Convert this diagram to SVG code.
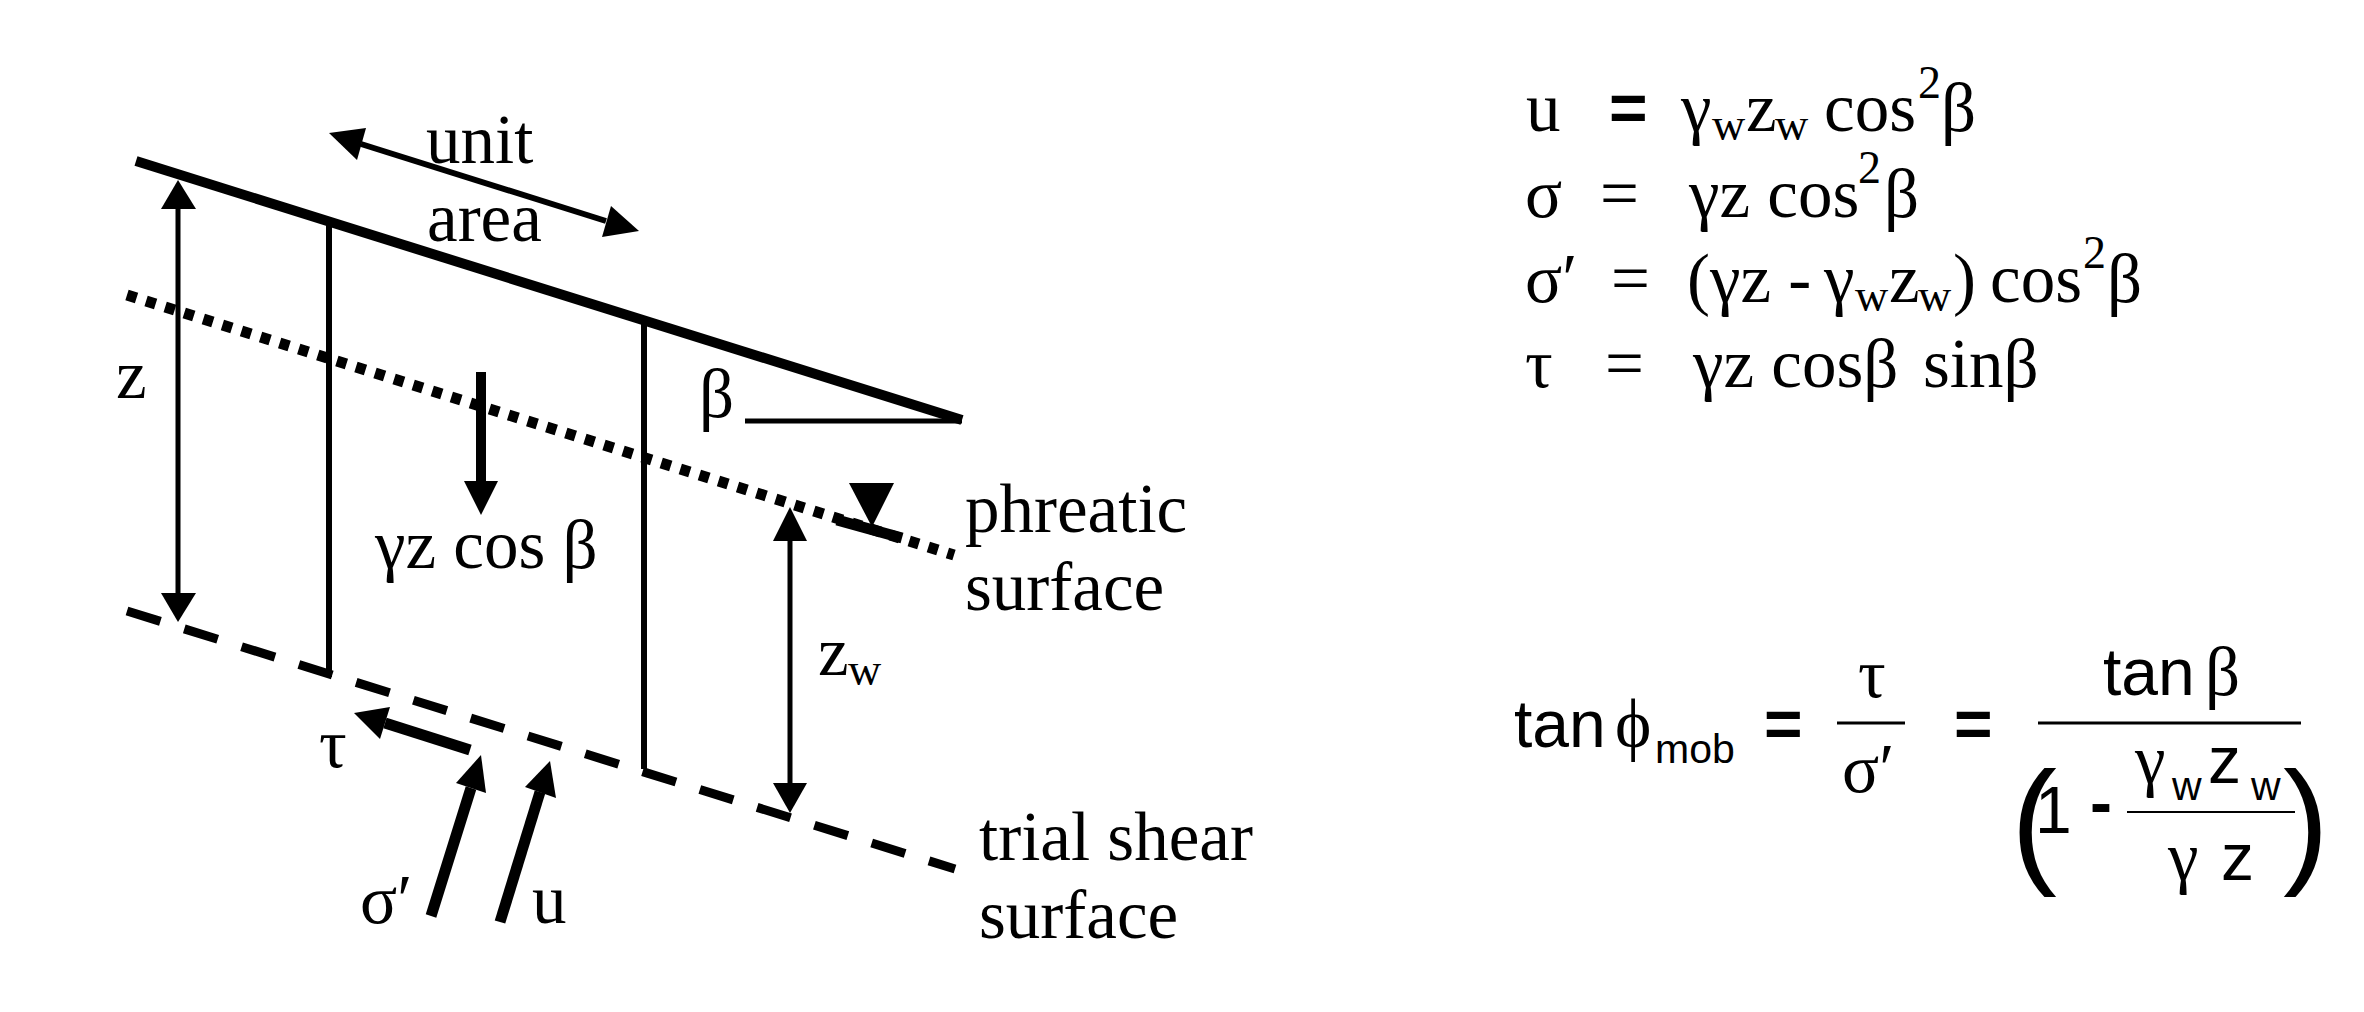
<svg xmlns="http://www.w3.org/2000/svg" width="2364" height="1012" viewBox="0 0 2364 1012">
<style>
.s{font-family:"Liberation Serif","Times New Roman",serif;font-size:69px;fill:#000}
.b{font-size:46px}
.a{font-family:"Liberation Sans",Arial,sans-serif;font-size:66px;fill:#000}
.c{font-size:41px}
.p{font-size:138px}
.ln{stroke:#000;fill:none}
.h{fill:#000;stroke:none}
</style>
<rect width="2364" height="1012" fill="#fff"/>
<g id="connectors">
<line class="ln" x1="136" y1="161" x2="962" y2="420" stroke-width="10"/>
<line class="ln" x1="127" y1="295" x2="954" y2="555" stroke-width="11" stroke-dasharray="10 10"/>
<line class="ln" x1="127" y1="611" x2="955" y2="869" stroke-width="9" stroke-dasharray="35 25"/>
<line class="ln" x1="329" y1="225" x2="329" y2="677" stroke-width="6"/>
<line class="ln" x1="644" y1="323" x2="644" y2="769" stroke-width="6"/>
<line class="ln" x1="745" y1="421" x2="962" y2="421" stroke-width="5"/>
<line class="ln" x1="178" y1="200" x2="178" y2="600" stroke-width="5"/>
<polygon class="h" points="178,180 161,209 196,209"/>
<polygon class="h" points="178,622 161,593 196,593"/>
<line class="ln" x1="790" y1="530" x2="790" y2="790" stroke-width="5"/>
<polygon class="h" points="790,507 773,541 807,541"/>
<polygon class="h" points="790,813 773,783 807,783"/>
<line class="ln" x1="361" y1="144" x2="606" y2="221" stroke-width="6"/>
<polygon class="h" points="329,133 366,128 357,160"/>
<polygon class="h" points="639,231 611,206 602,237"/>
<line class="ln" x1="481" y1="372" x2="481" y2="485" stroke-width="10"/>
<polygon class="h" points="481,515 464,481 498,481"/>
<line class="ln" x1="470" y1="750" x2="385" y2="723" stroke-width="11"/>
<polygon class="h" points="354,713 390,707 380,739"/>
<line class="ln" x1="431" y1="916" x2="471" y2="788" stroke-width="11"/>
<polygon class="h" points="481,755 456,783 486,793"/>
<line class="ln" x1="500" y1="922" x2="540" y2="792" stroke-width="11"/>
<polygon class="h" points="550,761 525,787 556,798"/>
<line class="ln" x1="837" y1="520" x2="902" y2="538" stroke-width="11"/>
<polygon class="h" points="849,483 894,483 872,527"/>
</g>
<g id="labels">
<text class="s" x="426" y="163">unit</text>
<text class="s" x="427" y="241">area</text>
<text class="s" x="116" y="398">z</text>
<text class="s" x="699" y="417">β</text>
<text class="s" x="375" y="568">γz cos β</text>
<text class="s" x="965" y="532">phreatic</text>
<text class="s" x="965" y="610">surface</text>
<text class="s" x="818" y="675">z</text><text class="s b" x="848" y="685">w</text>
<text class="s" x="319" y="767">τ</text>
<text class="s" x="360" y="923">σ′</text>
<text class="s" x="532" y="923">u</text>
<text class="s" x="979" y="860">trial shear</text>
<text class="s" x="979" y="938">surface</text>
</g>
<g id="equations">
<text class="s" x="1526" y="131">u</text>
<text class="a" font-weight="bold" x="1609" y="131">=</text>
<text class="s" x="1681" y="131">γ</text><text class="s b" x="1712" y="140">w</text><text class="s" x="1746" y="131">z</text><text class="s b" x="1775" y="140">w</text>
<text class="s" x="1824" y="131">cos</text><text class="s b" x="1918" y="98">2</text><text class="s" x="1941" y="131">β</text>
<text class="s" x="1525" y="217">σ</text><text class="s" x="1600" y="217">=</text>
<text class="s" x="1689" y="217">γz cos</text><text class="s b" x="1858" y="183">2</text><text class="s" x="1884" y="217">β</text>
<text class="s" x="1525" y="302">σ′</text><text class="s" x="1611" y="302">=</text>
<text class="s" x="1687" y="302">(γz -</text><text class="s" x="1824" y="302">γ</text><text class="s b" x="1855" y="311">w</text><text class="s" x="1889" y="302">z</text><text class="s b" x="1918" y="311">w</text><text class="s" x="1953" y="302">)</text>
<text class="s" x="1990" y="302">cos</text><text class="s b" x="2083" y="268">2</text><text class="s" x="2107" y="302">β</text>
<text class="s" x="1525" y="387">τ</text><text class="s" x="1605" y="387">=</text>
<text class="s" x="1693" y="387">γz cosβ</text><text class="s" x="1923" y="387">sinβ</text>
</g>
<g id="formula">
<text class="a" x="1514" y="747">tan</text><text class="s" x="1615" y="747">ϕ</text><text class="a c" x="1655" y="763">mob</text>
<text class="a" font-weight="bold" x="1764" y="747">=</text>
<text class="s" x="1858" y="697">τ</text>
<line class="ln" x1="1837" y1="723" x2="1905" y2="723" stroke-width="3"/>
<text class="s" x="1842" y="792">σ′</text>
<text class="a" font-weight="bold" x="1954" y="747">=</text>
<text class="a" x="2103" y="695">tan</text><text class="s" x="2205" y="695">β</text>
<line class="ln" x1="2038" y1="723" x2="2301" y2="723" stroke-width="3"/>
<text class="a p" x="2011" y="868">(</text>
<text class="a" x="2035" y="833">1</text>
<text class="a" font-weight="bold" x="2090" y="825">-</text>
<text class="s" x="2135" y="783">γ</text><text class="a c" x="2172" y="800">w</text><text class="a" x="2208" y="783">z</text><text class="a c" x="2251" y="800">w</text>
<line class="ln" x1="2127" y1="812" x2="2295" y2="812" stroke-width="2"/>
<text class="s" x="2168" y="880">γ</text><text class="a" x="2221" y="880">z</text>
<text class="a p" x="2283" y="868">)</text>
</g>
</svg>
